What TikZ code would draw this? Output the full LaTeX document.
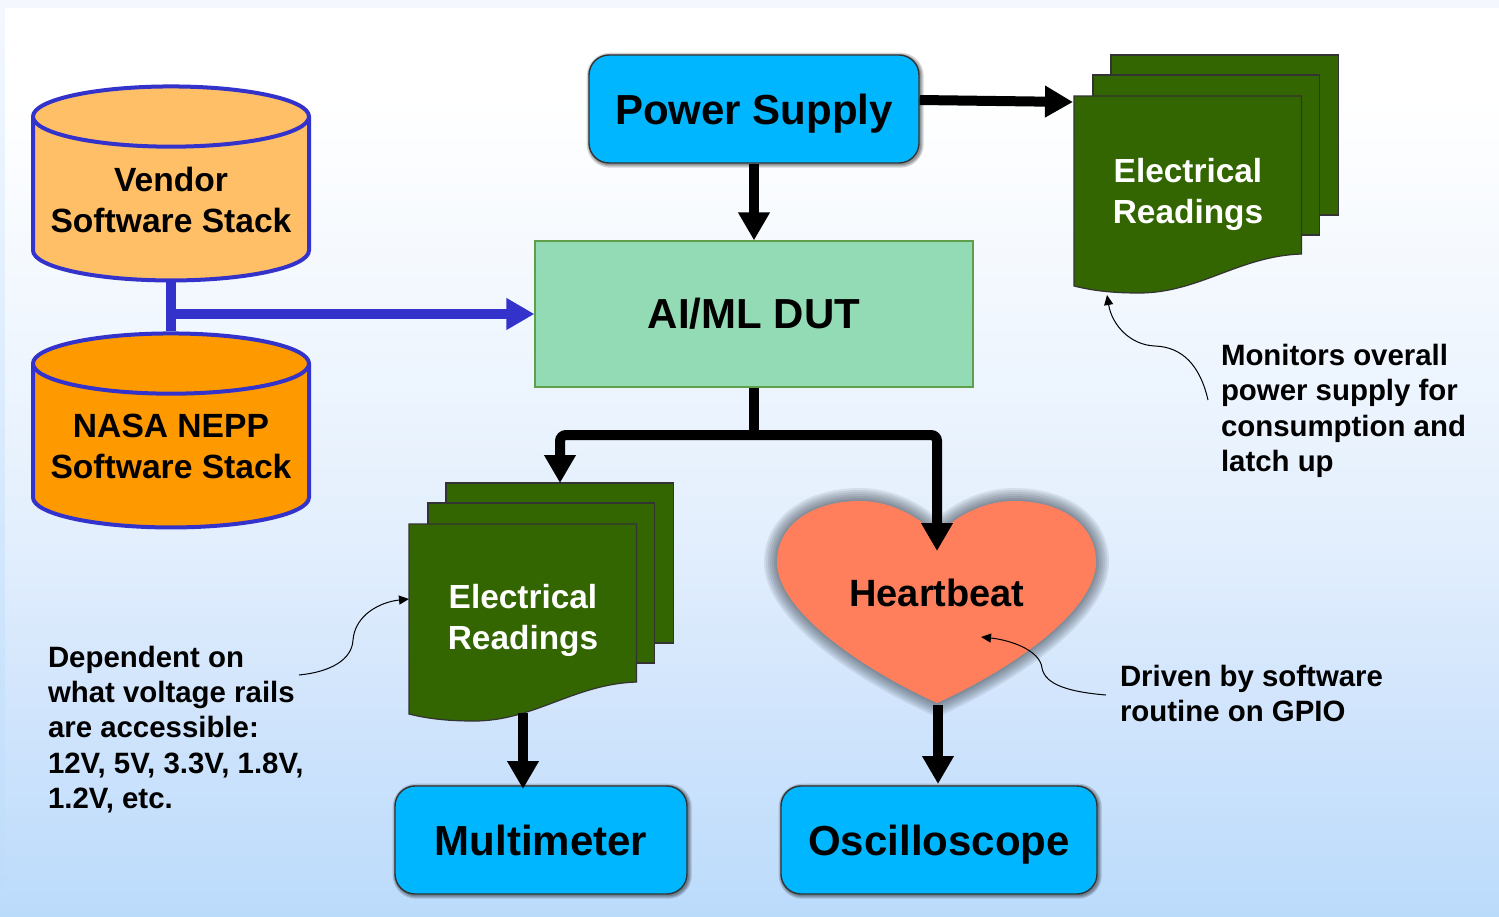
\documentclass[tikz,border=0pt]{standalone}
\usepackage{fontspec}
\setmainfont{Liberation Sans}
\usetikzlibrary{%
  arrows.meta,%
  shapes.geometric,% wg. cylinder
  calc
}
\definecolor{framecolor}{HTML}{F4F8FE}
\definecolor{stackblue}{HTML}{3333CC}
\definecolor{vendororange}{HTML}{FFBF66}
\definecolor{nasaorange}{HTML}{FF9900}
\definecolor{boxblue}{HTML}{00B6FF}
\definecolor{dutgreen}{HTML}{92DBB4}
\definecolor{dutborder}{HTML}{5F9E4A}
\definecolor{sheetgreen}{HTML}{336600}
\definecolor{heartred}{HTML}{FF7F5C}
\definecolor{rimgray}{HTML}{3D4650}
\definecolor{panelbottom}{HTML}{BBDBFB}
\definecolor{panellow}{HTML}{D2E5FC}
\definecolor{panelmid}{HTML}{E3EFFD}
\pgfdeclareverticalshading{panelshade}{100bp}{color(0bp)=(panelbottom);
  color(25bp)=(panelbottom);color(37bp)=(panellow);color(46bp)=(panelmid);
  color(70bp)=(white);color(100bp)=(white)}

\begin{document}
\begin{tikzpicture}
  [
  x=0.5pt, y=-0.5pt,
  line width=1pt, >={Triangle[length=14pt,width=15pt]},
  boxrim/.style={preaction={draw=black, draw opacity=0.16, line width=#1,
    transform canvas={xshift=0.6pt, yshift=-0.6pt}}},
  heartrim/.style={preaction={draw=rimgray, draw opacity=0.11, line width=#1, line join=round}},
  stack/.style={cylinder, shape border rotate=90, aspect=0.25, draw=stackblue, line width=2pt,
    minimum width=138pt, minimum height=97pt, inner sep=0pt, align=center,
    font=\fontsize{16.8}{20.5}\selectfont\bfseries},
  device/.style={rectangle, rounded corners=10pt, draw=black!80, line width=0.7pt, fill=boxblue,
    minimum width=#1, minimum height=54pt, inner sep=0pt, text height=15pt, text depth=0pt,
    font=\fontsize{21}{25}\selectfont\bfseries, boxrim/.list={3.5pt,2.2pt,1pt}},
  sheet/.style={fill=sheetgreen, draw=black!80, line width=0.6pt},
  sheetlabel/.style={align=center, text=white, inner sep=0pt,
    font=\fontsize{16.7}{20.5}\selectfont\bfseries},
  note/.style={align=left, anchor=west, inner sep=0pt,
    font=\fontsize{14.7}{17.7}\selectfont\bfseries},
  flow/.style={->, line width=5pt, black},
  pointer/.style={-{Triangle[length=5pt,width=4.5pt]}, line width=0.5pt, black}
  ]

  % background
  \fill[top color=framecolor, bottom color=panelbottom] (0,0) rectangle (1499,916);
  \fill[shading=panelshade] (5,8) rectangle (1499,916);

  % software stacks
  \node[stack, fill=vendororange] (vendor) at (171,199.5) {Vendor\\Software Stack};
  \node[stack, fill=nasaorange] (nasa) at (171,446.5) {NASA NEPP\\Software Stack};

  \node[device=165pt] (supply) at (754,109) {Power Supply};
  \node[draw=dutborder, fill=dutgreen, line width=0.6pt, minimum width=219pt, minimum height=73pt,
    inner sep=0pt, font=\fontsize{21}{25}\selectfont\bfseries] (dut) at (754,314) {AI/ML DUT};
  \node[device=146pt] (meter) at (541,840) {Multimeter};
  \node[device=158pt] (scope) at (939,840) {Oscilloscope};

  % the two piles of readings
  \foreach \x/\y/\n/\t in {1074/96/top/98, 409/524/low/96} {
    \draw[sheet] (\x+37,\y-41) rectangle +(227.5,160);
    \draw[sheet] (\x+19,\y-21) rectangle +(226.5,160);
    \draw[sheet] (\x,\y) -- +(227.5,0) -- +(227.5,158)
      .. controls (\x+165,\y+160) and (\x+125,\y+197) .. (\x+65,\y+197)
      .. controls (\x+40,\y+197) and (\x+20,\y+195) .. (\x,\y+190) -- cycle;
    \node[sheetlabel] (read\n) at (\x+114,\y+\t) {Electrical\\Readings};
  }

  % heart
  \fill[heartred, heartrim/.list={13pt,11pt,9pt,7pt,5pt,3pt,1.5pt}]
    (937,536) .. controls (915,512) and (885,501) .. (860,501)
    .. controls (812,501) and (777,525) .. (777,562)
    .. controls (777,610) and (860,668) .. (937,703)
    .. controls (1014,668) and (1096,610) .. (1096,562)
    .. controls (1096,525) and (1062,501) .. (1014,501)
    .. controls (989,501) and (959,512) .. (937,536) -- cycle;
  \node[inner sep=0pt, font=\fontsize{19}{23}\selectfont\bfseries] (heart) at (937,593) {Heartbeat};

  \coordinate (fork) at (754,435);
  \coordinate (hearttop) at (937,551);
  \coordinate (hearttip) at (938,705);

  % connectors
  \draw[stackblue, line width=5pt] (vendor.south) -- (nasa.north);
  \draw[->, stackblue, line width=5pt] (171,314) -- (dut.west);
  \draw[flow] (supply.south) -- (dut.north);
  \draw[flow] (supply.east |- 0,100) -- (1073,102);
  \draw[line width=5pt] (dut.south) -- (fork);
  \draw[flow, rounded corners=3pt] (fork) -| (560,483);
  \draw[flow, rounded corners=3pt] (fork) -| (hearttop);
  \draw[flow] (hearttip) -- (938,784);
  \draw[flow] (523,713) -- (523,789);

  % notes
  \node[note] (notesupply) at (1220,411) {Monitors overall\\power supply for\\consumption and\\latch up};
  \node[note] (noterails) at (47,729.5) {Dependent on\\what voltage rails\\are accessible:\\12V, 5V, 3.3V, 1.8V,\\1.2V, etc.};
  \node[note] (notegpio) at (1119,693.5) {Driven by software\\routine on GPIO};

  \draw[pointer] (1208,400) .. controls (1200,365) and (1182,347) .. (1155,346)
    .. controls (1130,345) and (1112,325) .. (1107,295);
  \draw[pointer] (299,675) .. controls (330,672) and (352,660) .. (353,640)
    .. controls (355,615) and (380,602) .. (409,599);
  \draw[pointer] (1106,695) .. controls (1070,692) and (1045,685) .. (1042,668)
    .. controls (1040,650) and (1010,640) .. (981,637);
\end{tikzpicture}
\end{document}
